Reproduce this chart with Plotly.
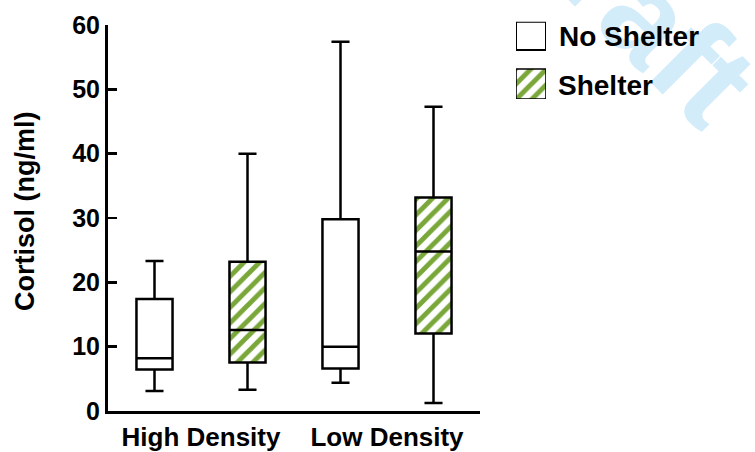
import plotly.graph_objects as go

# ---------------- data ----------------
groups = ["High Density", "Low Density"]
group_pos = [1, 2]
series_names = ["No Shelter", "Shelter"]

no_shelter_min = [3.1, 4.4]
no_shelter_q1 = [6.45, 6.6]
no_shelter_median = [8.2, 10.0]
no_shelter_q3 = [17.4, 29.8]
no_shelter_max = [23.3, 57.4]

shelter_min = [3.3, 1.25]
shelter_q1 = [7.55, 12.05]
shelter_median = [12.6, 24.8]
shelter_q3 = [23.2, 33.2]
shelter_max = [40.0, 47.3]

y_ticks = [0, 10, 20, 30, 40, 50, 60]

# ---------------- style ----------------
W, H = 755, 452
FONT = "Liberation Sans, Arial, sans-serif"
GREEN = "#7aa73a"
OFFSET = 0.25
BOX_W = 0.194
LINE_W = 2.5


def fx(px):
    return px / W


def fy(px):
    return 1 - px / H


ns_pos = [p - OFFSET for p in group_pos]
sh_pos = [p + OFFSET for p in group_pos]

HATCH = dict(shape="/", fgcolor=GREEN, bgcolor="white", size=11, solidity=0.45,
             fgopacity=1, fillmode="replace")

fig = go.Figure()

# hatched fill for Shelter boxes
fig.add_trace(go.Bar(
    x=sh_pos,
    y=[b - a for a, b in zip(shelter_q1, shelter_q3)],
    base=shelter_q1,
    width=BOX_W,
    marker=dict(color=GREEN, pattern=HATCH, line=dict(width=0)),
    showlegend=False, hoverinfo="skip",
))

# box plots
fig.add_trace(go.Box(
    name=series_names[0],
    x=ns_pos, q1=no_shelter_q1, median=no_shelter_median, q3=no_shelter_q3,
    lowerfence=no_shelter_min, upperfence=no_shelter_max,
    width=BOX_W, whiskerwidth=0.5, boxpoints=False,
    fillcolor="white", line=dict(color="black", width=LINE_W),
    showlegend=False, hoverinfo="skip",
))
fig.add_trace(go.Box(
    name=series_names[1],
    x=sh_pos, q1=shelter_q1, median=shelter_median, q3=shelter_q3,
    lowerfence=shelter_min, upperfence=shelter_max,
    width=BOX_W, whiskerwidth=0.5, boxpoints=False,
    fillcolor="rgba(0,0,0,0)", line=dict(color="black", width=LINE_W),
    showlegend=False, hoverinfo="skip",
))

# custom legend glyphs (on a small hidden axis pair, pixel units)
fig.add_trace(go.Bar(
    x=[0.5], y=[28.3], base=[49], width=1, xaxis="x2", yaxis="y2",
    marker=dict(color="white", line=dict(color="black", width=2)),
    showlegend=False, hoverinfo="skip",
))
fig.add_trace(go.Bar(
    x=[0.5], y=[30], base=[0], width=1, xaxis="x2", yaxis="y2",
    marker=dict(color=GREEN, pattern=HATCH, line=dict(color="black", width=1.6)),
    showlegend=False, hoverinfo="skip",
))

annotations = [
    # watermark
    dict(text="Draft", xref="paper", yref="paper", x=fx(628), y=fy(-4),
         showarrow=False, textangle=45, xanchor="center", yanchor="middle",
         font=dict(family=FONT, size=128, color="#d3ecfa", weight="bold")),
    # y axis title
    dict(text="Cortisol (ng/ml)", xref="paper", yref="paper", x=fx(25), y=fy(212),
         showarrow=False, textangle=-90, xanchor="center", yanchor="middle",
         font=dict(family=FONT, size=27, color="black", weight="bold")),
    # legend labels
    dict(text=series_names[0], xref="paper", yref="paper", x=fx(557), y=fy(36),
         showarrow=False, xanchor="left", yanchor="middle",
         font=dict(family=FONT, size=28, color="black", weight="bold")),
    dict(text=series_names[1], xref="paper", yref="paper", x=fx(556), y=fy(86),
         showarrow=False, xanchor="left", yanchor="middle",
         font=dict(family=FONT, size=28, color="black", weight="bold")),
]

fig.update_layout(
    width=W, height=H,
    margin=dict(l=0, r=0, t=0, b=0),
    paper_bgcolor="white", plot_bgcolor="white",
    barmode="overlay", boxmode="overlay",
    showlegend=False,
    annotations=annotations,
    xaxis=dict(
        domain=[fx(108), fx(480)], range=[0.5, 2.5],
        tickvals=group_pos, ticktext=groups, ticks="",
        showline=True, linewidth=3, linecolor="black",
        showgrid=False, zeroline=False, automargin=False,
        ticklabelstandoff=1,
        tickfont=dict(family=FONT, size=26, color="black", weight="bold"),
    ),
    yaxis=dict(
        domain=[fy(411), fy(25)], range=[0, 60],
        tickvals=y_ticks, ticks="inside", ticklen=9, tickwidth=2.5, tickcolor="black",
        showline=True, linewidth=3, linecolor="black",
        showgrid=False, zeroline=False, automargin=False,
        tickfont=dict(family=FONT, size=25, color="black", weight="bold"),
    ),
    xaxis2=dict(domain=[fx(516), fx(546)], range=[0, 1], visible=False,
                anchor="y2", fixedrange=True),
    yaxis2=dict(domain=[fy(99), fy(21.7)], range=[0, 77.3], visible=False,
                anchor="x2", fixedrange=True),
)

fig.write_html("out.html",
               config={"displayModeBar": False, "staticPlot": True},
               post_script="document.body.style.margin='0px';"
                           "document.body.style.overflow='hidden';")
